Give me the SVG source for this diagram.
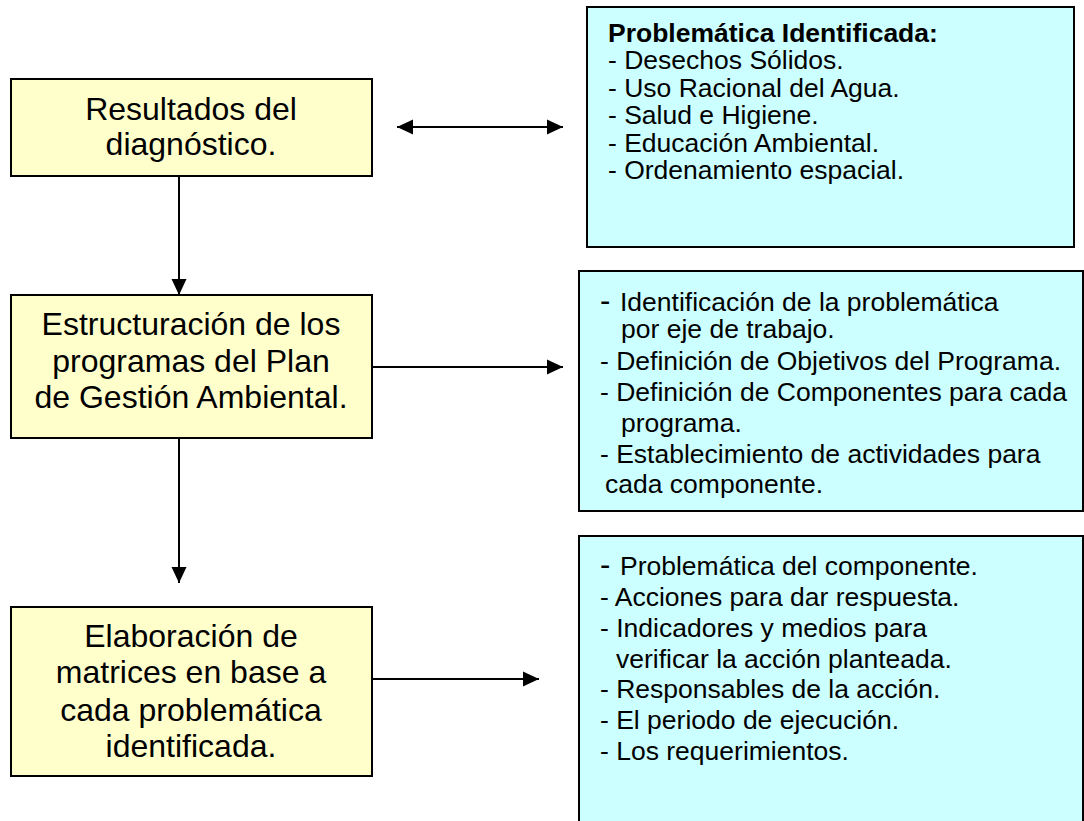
<svg xmlns="http://www.w3.org/2000/svg" width="1084" height="821" viewBox="0 0 1084 821">
<style>
.y{fill:#FFFFCC;stroke:#000;stroke-width:2}
.c{fill:#CCFFFF;stroke:#000;stroke-width:2}
.t{font-family:"Liberation Sans",Arial,sans-serif;font-size:32px;fill:#000;text-anchor:middle}
.s{font-family:"Liberation Sans",Arial,sans-serif;font-size:26.5px;fill:#000}
.b{font-weight:bold}
.d{font-size:31px}
.e{stroke:#000;stroke-width:2;fill:none}
</style>
<defs>
<marker id="ah" markerWidth="16" markerHeight="16" refX="16" refY="8" orient="auto" markerUnits="userSpaceOnUse"><path d="M0,0.5 L16,8 L0,15.5 Z" fill="#000"/></marker>
<marker id="as" markerWidth="16" markerHeight="16" refX="0" refY="8" orient="auto" markerUnits="userSpaceOnUse"><path d="M16,0.5 L0,8 L16,15.5 Z" fill="#000"/></marker>
</defs>
<g id="connectors">
<line class="e" x1="397" y1="127" x2="563" y2="127" marker-start="url(#as)" marker-end="url(#ah)"/>
<line class="e" x1="179" y1="176" x2="179" y2="295" marker-end="url(#ah)"/>
<line class="e" x1="372" y1="367" x2="563" y2="367" marker-end="url(#ah)"/>
<line class="e" x1="179" y1="438" x2="179" y2="583" marker-end="url(#ah)"/>
<line class="e" x1="372" y1="679" x2="539" y2="679" marker-end="url(#ah)"/>
</g>
<g id="n1">
<rect class="y" x="11" y="79" width="361" height="97"/>
<text class="t" x="191" y="120">Resultados del</text>
<text class="t" x="191" y="155">diagnóstico.</text>
</g>
<g id="n2">
<rect class="c" x="587" y="7" width="487" height="240"/>
<text class="s b" x="608" y="42">Problemática Identificada:</text>
<text class="s" x="608" y="69">- Desechos Sólidos.</text>
<text class="s" x="608" y="96.5">- Uso Racional del Agua.</text>
<text class="s" x="608" y="124">- Salud e Higiene.</text>
<text class="s" x="608" y="151.5">- Educación Ambiental.</text>
<text class="s" x="608" y="179">- Ordenamiento espacial.</text>
</g>
<g id="n3">
<rect class="y" x="11" y="295" width="361" height="143"/>
<text class="t" x="191" y="335">Estructuración de los</text>
<text class="t" x="191" y="372">programas del Plan</text>
<text class="t" x="191" y="408">de Gestión Ambiental.</text>
</g>
<g id="n4">
<rect class="c" x="579" y="271" width="504" height="240"/>
<text class="s d" x="600" y="311">-</text>
<text class="s" x="620" y="311">Identificación de la problemática</text>
<text class="s" x="621" y="338">por eje de trabajo.</text>
<text class="s" x="600" y="370">- Definición de Objetivos del Programa.</text>
<text class="s" x="600" y="401">- Definición de Componentes para cada</text>
<text class="s" x="621" y="432">programa.</text>
<text class="s" x="600" y="463">- Establecimiento de actividades para</text>
<text class="s" x="605" y="493">cada componente.</text>
</g>
<g id="n5">
<rect class="y" x="11" y="607" width="361" height="169"/>
<text class="t" x="191" y="647">Elaboración de</text>
<text class="t" x="191" y="683">matrices en base a</text>
<text class="t" x="191" y="721">cada problemática</text>
<text class="t" x="191" y="757">identificada.</text>
</g>
<g id="n6">
<rect class="c" x="579" y="536" width="504" height="300"/>
<text class="s d" x="600" y="575">-</text>
<text class="s" x="620" y="575">Problemática del componente.</text>
<text class="s" x="600" y="606">- Acciones para dar respuesta.</text>
<text class="s" x="600" y="637">- Indicadores y medios para</text>
<text class="s" x="616" y="668">verificar la acción planteada.</text>
<text class="s" x="600" y="698">- Responsables de la acción.</text>
<text class="s" x="600" y="729">- El periodo de ejecución.</text>
<text class="s" x="600" y="760">- Los requerimientos.</text>
</g>
</svg>
